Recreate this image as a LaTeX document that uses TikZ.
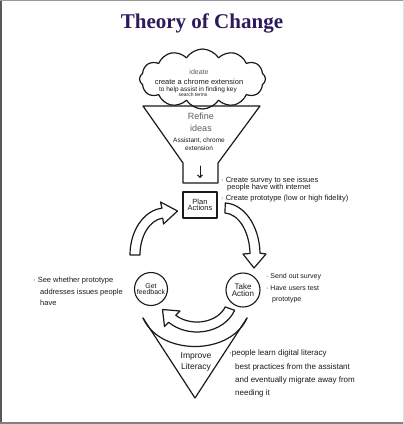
\documentclass[tikz,border=0pt]{standalone}
\usepackage{fontspec}
\setmainfont{Liberation Sans}
\newfontfamily\titlefont{Liberation Serif}
\usetikzlibrary{shapes.symbols,arrows.meta}
\definecolor{titlecol}{HTML}{2B1B5C}
\definecolor{pen}{HTML}{1A1A1A}
\definecolor{lightpen}{HTML}{5E5E5E}
\begin{document}
\begin{tikzpicture}[x=1pt,y=-1pt,line join=round,line cap=round,
  pen/.style={draw=pen,line width=1.2pt},
  hand/.style={text=pen,inner sep=0pt,anchor=base west},
  handc/.style={text=pen,inner sep=0pt,anchor=base},
  fs/.style={font=\fontsize{#1}{#1}\selectfont}]
\useasboundingbox (0,0) rectangle (404,424);
\fill[white] (0,0) rectangle (404,424);
% frame
\fill[black!65] (0,0) rectangle (2,424);
\fill[black!40] (0,0) rectangle (404,1);
\fill[black!50] (0,421.5) rectangle (404,424);
\fill[black!12] (403,0) rectangle (404,424);
% title
\node[anchor=base,inner sep=0pt,text=titlecol,font=\titlefont\bfseries\fontsize{21}{21}\selectfont] (title) at (202,28) {Theory of Change};
% cloud
\node[cloud,pen,cloud puffs=12,cloud puff arc=115,cloud ignores aspect,minimum width=126pt,minimum height=60pt,inner sep=0pt] (ideate) at (202.5,79) {};
\node[handc,fs=7,text=lightpen] (c1) at (199,74.5) {ideate};
\node[handc,fs=7.5] (c2) at (199,84.5) {create a chrome extension};
\node[handc,fs=6.5] (c3) at (198,91.2) {to help assist in finding key};
\node[handc,fs=5] (c4) at (193,96.8) {search terms};
% funnel
\draw[pen] (143,106) coordinate (ftl) -- (260,106) coordinate (ftr) -- (218,163) -- (218,183) coordinate (fbr) -- (183,183) coordinate (fbl) -- (183,163) -- cycle;
\node[handc,fs=9,text=lightpen] (refine) at (201,119) {Refine};
\node[handc,fs=9,text=lightpen] (ideas) at (201,131) {ideas};
\node[handc,fs=6.5] (f1) at (199,142.3) {Assistant, chrome};
\node[handc,fs=6.5] (f2) at (199,150.3) {extension};
\coordinate (na) at (200,166);
\coordinate (nb) at (200,178);
\draw[pen,line width=0.9pt,-{Straight Barb[length=2.5pt,width=5pt]}] (na) -- (nb);
% plan actions
\node[draw=pen,line width=1.1pt,minimum width=34pt,minimum height=26pt,inner sep=0pt,align=center,fs=7.5,text=pen] (plan) at (200,205) {Plan\\[-1pt]Actions};
\node[hand,fs=7.5] (p1) at (221,182.5) {· Create survey to see issues};
\node[hand,fs=7.5] (p2) at (227,189.5) {people have with internet};
\node[hand,fs=7.5] (p3) at (221,200.5) {· Create prototype (low or high fidelity)};
% left block arrow
\draw[pen,fill=white] (130,255) arc[start angle=180,end angle=265,x radius=35,y radius=47]
  -- (160.5,202) -- (177.5,211) -- (163.5,224) -- (162.8,218.1)
  arc[start angle=265,end angle=180,x radius=25,y radius=37] -- cycle;
% right block arrow
\draw[pen,fill=white] (225.3,203) arc[start angle=272,end angle=358,x radius=36,y radius=52]
  -- (266,254) -- (254,268) -- (243,254) -- (250,253.5)
  arc[start angle=358,end angle=272,x radius=26,y radius=42] -- cycle;
% circles
\node[circle,draw=pen,line width=1.1pt,minimum size=33pt,inner sep=0pt,align=center,fs=7,text=pen] (gf) at (151,289) {Get\\[-0.5pt]feedback};
\node[circle,draw=pen,line width=1.1pt,minimum size=34pt,inner sep=0pt,align=center,fs=8,text=pen] (ta) at (243,290) {Take\\[-0.5pt]Action};
\node[hand,fs=7.5] (g1) at (33,282.5) {· See whether prototype};
\node[hand,fs=7.5] (g2) at (40,294.5) {addresses issues people};
\node[hand,fs=7.5] (g3) at (40,305.5) {have};
\node[hand,fs=7] (t1) at (266,278.5) {· Send out survey};
\node[hand,fs=7] (t2) at (266,290.5) {· Have users test};
\node[hand,fs=7] (t3) at (272,301.5) {prototype};
% bottom block arrow
\draw[pen,fill=white] (234.6,310.3) arc[start angle=20,end angle=135,x radius=40,y radius=33]
  -- (164.5,326.5) -- (162.5,309.5) -- (180,311) -- (175.8,315.3)
  arc[start angle=135,end angle=20,x radius=30,y radius=23] -- cycle;
% improve literacy cone
\coordinate (vl) at (143,318);
\coordinate (vb) at (195,398);
\coordinate (vr) at (247,318);
\draw[pen] (vl) -- (vb) -- (vr);
\draw[pen] (vl) .. controls (160,356) and (230,356) .. (vr);
\node[handc,fs=8.5] (il1) at (196,358.5) {Improve};
\node[handc,fs=8.5] (il2) at (196,369.5) {Literacy};
\node[hand,fs=8] (b1) at (229,355) {·people learn digital literacy};
\node[hand,fs=8] (b2) at (235,369) {best practices from the assistant};
\node[hand,fs=8] (b3) at (235,382) {and eventually migrate away from};
\node[hand,fs=8] (b4) at (235,395) {needing it};
\end{tikzpicture}
\end{document}
